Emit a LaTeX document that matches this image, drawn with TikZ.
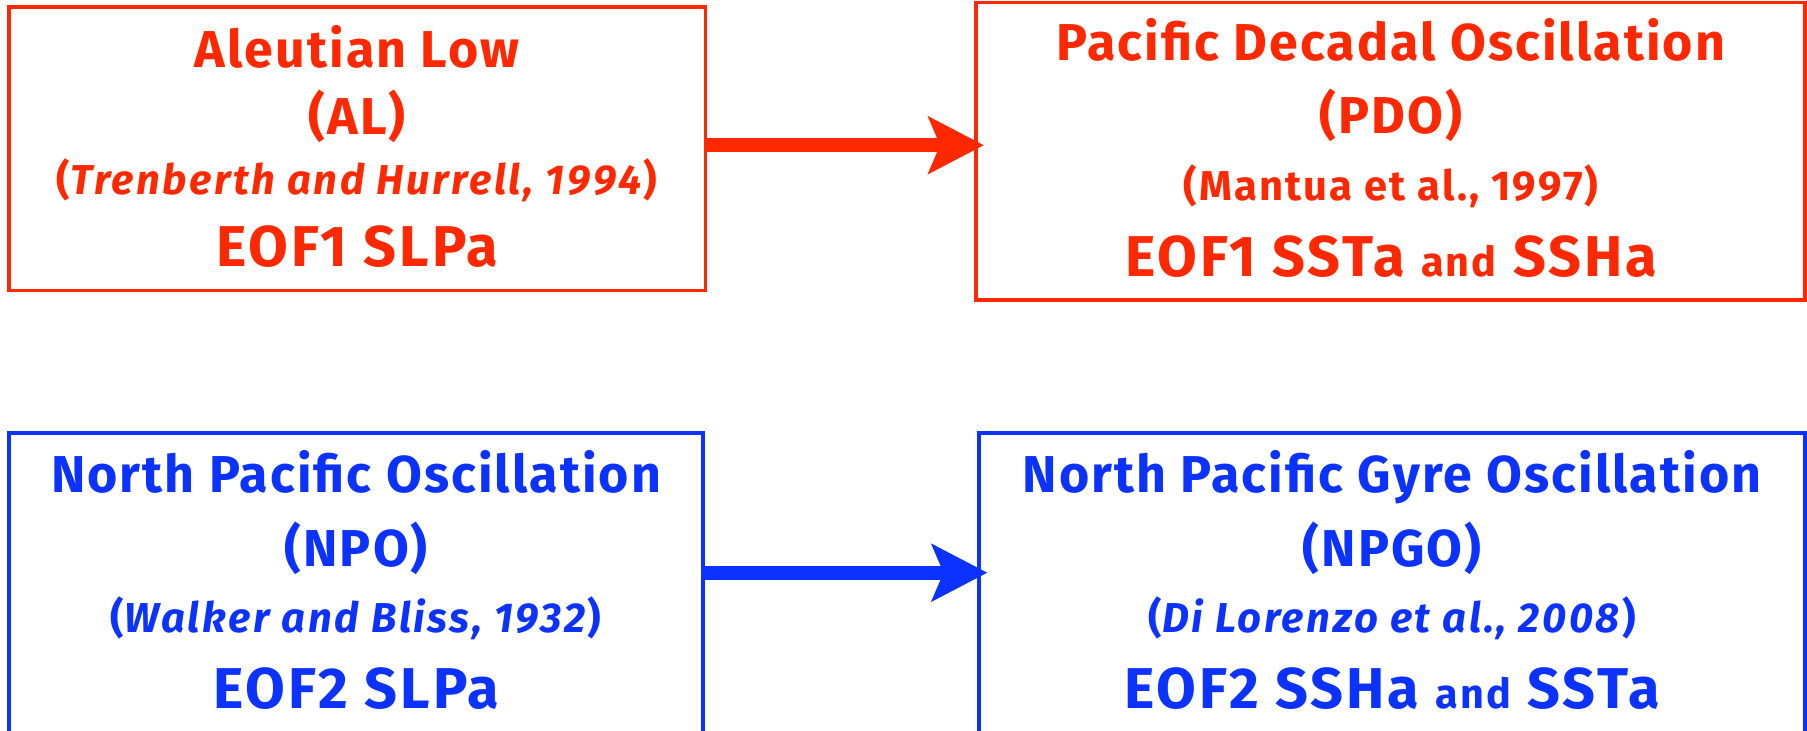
\documentclass[tikz,border=0pt]{standalone}
\usepackage{fontspec}
\setmainfont{Fira Sans}
\newfontfamily\ttlfam{Fira Sans}[LetterSpace=4]
\newfontfamily\citefam{Fira Sans}[LetterSpace=6.2]
\newfontfamily\mantuafam{Fira Sans}[LetterSpace=5]
\newfontfamily\eoffam{Fira Sans}[LetterSpace=5]
\usetikzlibrary{arrows.meta}
\definecolor{aured}{RGB}{255,40,0}
\definecolor{aublue}{RGB}{12,50,255}
\newcommand{\smallword}[1]{{\fontsize{10.2}{12}\selectfont #1}}
\begin{document}
\begin{tikzpicture}[x=0.01cm,y=-0.01cm,
  box/.style={draw, line width=0.9pt, inner sep=0pt, outer sep=0pt},
  ttl/.style={anchor=base, inner sep=0pt, font=\ttlfam\bfseries\fontsize{12.8}{14}\selectfont},
  cite/.style={anchor=base, inner sep=0pt, font=\citefam\bfseries\fontsize{10.3}{12}\selectfont},
  mcite/.style={anchor=base, inner sep=0pt, font=\mantuafam\bfseries\fontsize{10.3}{12}\selectfont},
  eof/.style={anchor=base, inner sep=0pt, font=\eoffam\bfseries\fontsize{14.2}{16}\selectfont},
  conn/.style={line width=0.12cm, shorten >=-0.07cm, -{Stealth[length=4.8mm,width=4.9mm,inset=1mm]}}]
\clip (0,0) rectangle (1568,633.5);
% boxes
\node[box, draw=aured, minimum width=6.04cm, minimum height=2.46cm] (al) at (310,129) {};
\node[box, draw=aured, minimum width=7.19cm, minimum height=2.58cm] (pdo) at (1206.5,131.2) {};
\node[box, draw=aublue, minimum width=6.02cm, minimum height=3.84cm] (npo) at (309,568) {};
\node[box, draw=aublue, minimum width=7.16cm, minimum height=3.84cm] (npgo) at (1208,568) {};
% arrows
\draw[conn, aured] ([yshift=-1.2cm]al.north east) -- ([yshift=-1.2cm]al.north east -| pdo.west);
\draw[conn, aublue] ([yshift=-1.21cm]npo.north east) -- ([yshift=-1.21cm]npo.north east -| npgo.west);
% red texts
\begin{scope}[text=aured]
\node[ttl] (al1) at (310,58.7) {Aleutian Low};
\node[ttl] (al2) at (310,116.3) {(AL)};
\node[cite] (al3) at (310,169) {(\textit{Trenberth and Hurrell, 1994})};
\node[eof] (al4) at (310,231.4) {EOF1 SLPa};
\node[ttl] (pdo1) at (1207,52.7) {Pacific Decadal Oscillation};
\node[ttl] (pdo2) at (1207,115.7) {(PDO)};
\node[mcite] (pdo3) at (1207,173.6) {(Mantua et al., 1997)};
\node[eof] (pdo4) at (1207,239.5) {EOF1 SSTa \smallword{and} SSHa};
\end{scope}
\begin{scope}[text=aublue]
\node[ttl] (npo1) at (309,427.5) {North Pacific Oscillation};
\node[ttl] (npo2) at (309,491.7) {(NPO)};
\node[cite] (npo3) at (309,549) {(\textit{Walker and Bliss, 1932})};
\node[eof] (npo4) at (309,614.7) {EOF2 SLPa};
\node[ttl] (npgo1) at (1208,427.5) {North Pacific Gyre Oscillation};
\node[ttl] (npgo2) at (1208,491.7) {(NPGO)};
\node[cite] (npgo3) at (1208,549) {(\textit{Di Lorenzo et al., 2008})};
\node[eof] (npgo4) at (1208,614.7) {EOF2 SSHa \smallword{and} SSTa};
\end{scope}
\end{tikzpicture}
\end{document}
